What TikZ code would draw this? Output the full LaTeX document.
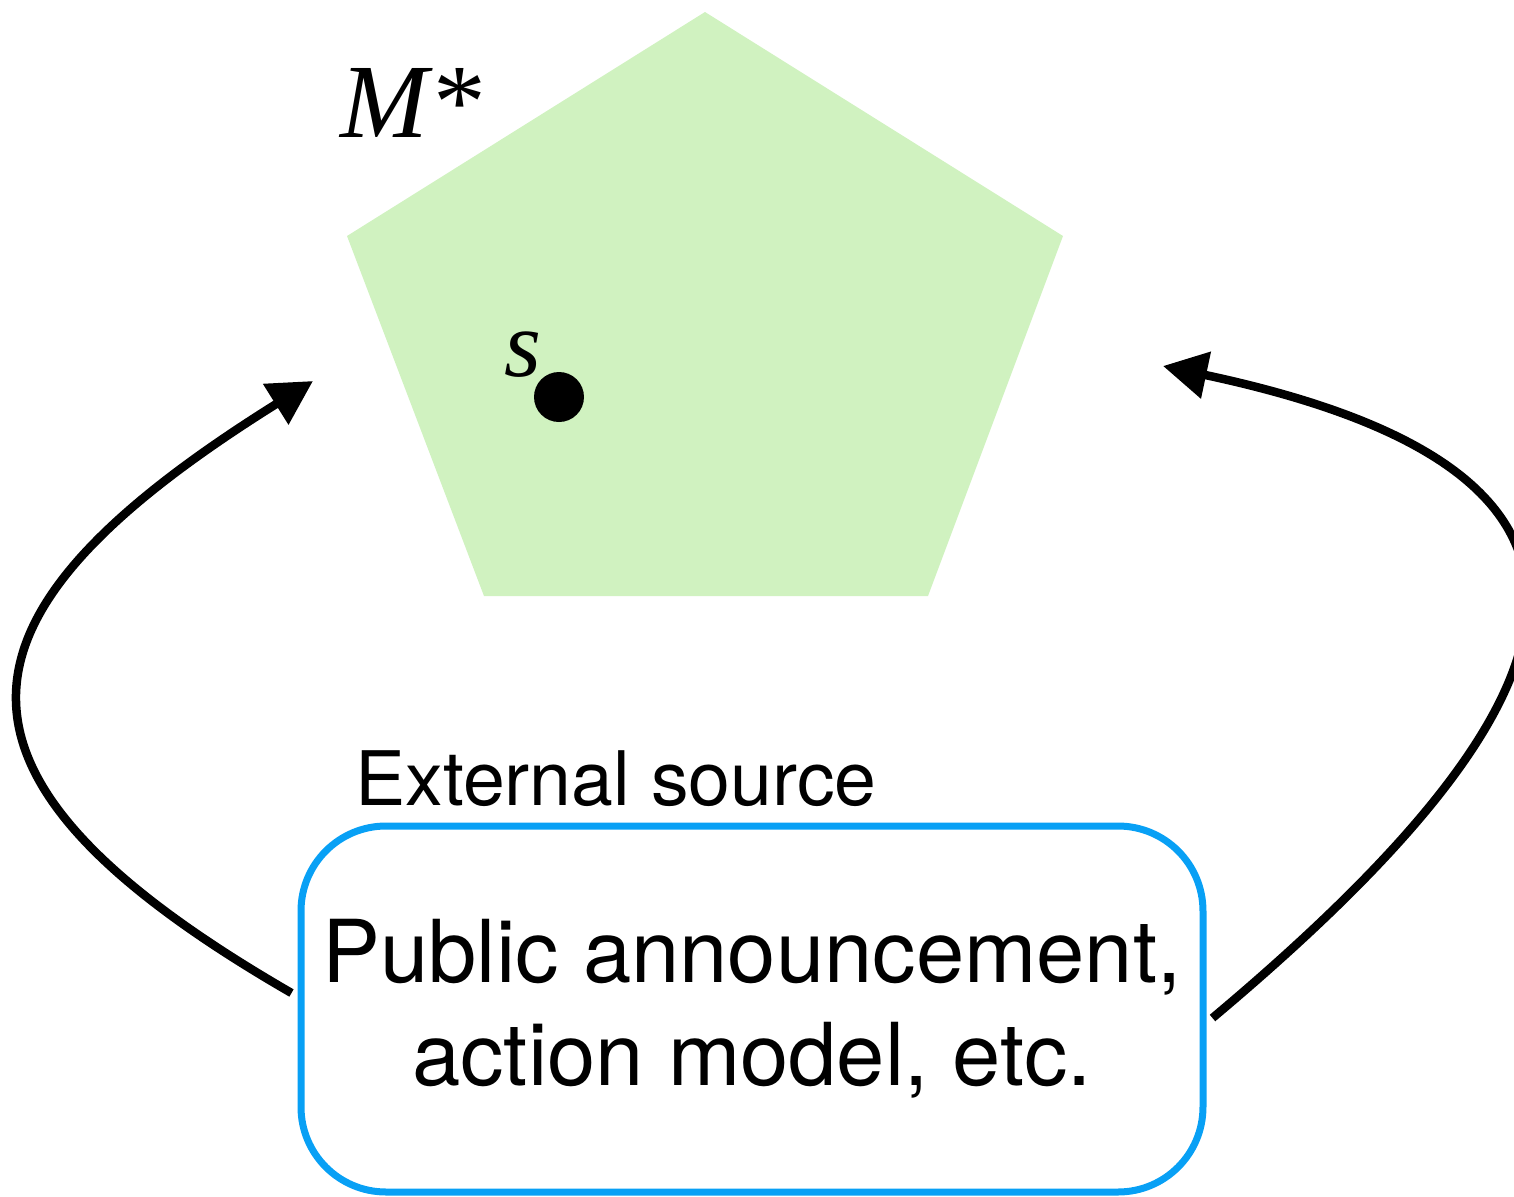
\documentclass[tikz,border=0pt]{standalone}
\usepackage{fontspec}
\setmainfont{TeX Gyre Heros}
\newfontfamily\timesfont{Liberation Serif}
\usetikzlibrary{arrows.meta}
\definecolor{modelgreen}{RGB}{208,242,192}
\definecolor{sourceblue}{RGB}{8,160,245}

\begin{document}
\begin{tikzpicture}
      \tikzstyle{model}=[fill=modelgreen]
      \tikzstyle{sourcebox}=[draw=sourceblue, line width=0.07cm, rounded corners=0.85cm, minimum width=9.02cm, minimum height=3.66cm, align=center, font=\fontsize{24.7}{29.3}\selectfont]
      \tikzstyle{update}=[-{Triangle[length=4.4mm,width=4.6mm]}, line width=0.085cm]

      \useasboundingbox (0,0) rectangle (15.14,-11.97);

      % the model M* and its state s
      \fill[model] (7.05,-0.12) -- (10.63,-2.36) -- (9.28,-5.96) -- (4.84,-5.96) -- (3.47,-2.36) -- cycle;
      \node[anchor=base west, font=\timesfont\fontsize{30}{36}\selectfont] (Mlabel) at (3.28,-1.37) {\textit{M}*};
      \node[circle, fill=black, minimum size=0.5cm, inner sep=0] (s) at (5.59,-3.97) {};
      \node[anchor=base west, font=\timesfont\fontsize{27}{32}\selectfont] (slabel) at (4.92,-3.76) {\textit{s}};

      \node[sourcebox] (Src) at (7.52,-10.09) {Public announcement,\\action model, etc.};
      \node[anchor=base west, font=\fontsize{21.4}{25}\selectfont] (Ext) at (3.43,-8.05) {External source};

      \coordinate (inL) at (3.13,-3.81);
      \coordinate (inR) at (11.63,-3.66);
      \draw[update] ([shift={(-0.6mm,1.6mm)}]Src.west) to[out=150,in=212,looseness=1.83] (inL);
      \draw[update] ([shift={(0.6mm,-0.9mm)}]Src.east) to[out=40,in=348,looseness=2.0] (inR);

    \end{tikzpicture}
\end{document}
